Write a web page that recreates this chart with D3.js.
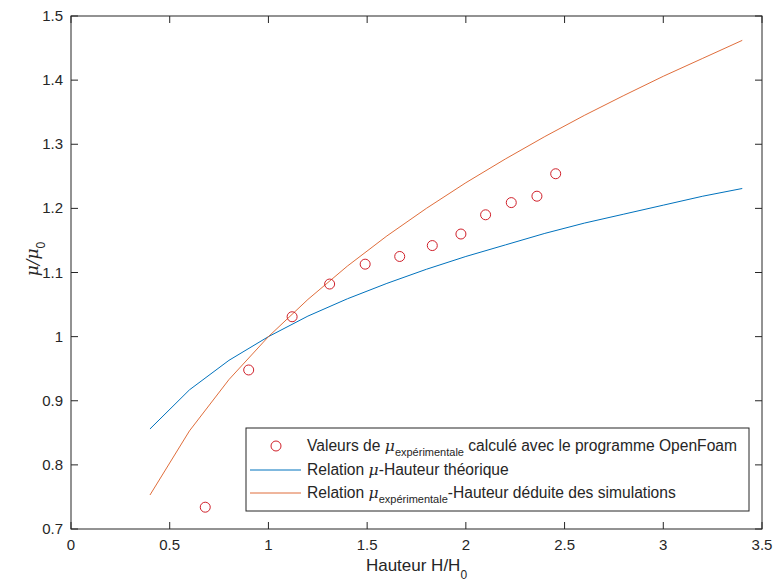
<html>
  <head>
    <meta charset="utf-8">
    <title>mu / mu0</title>
    <style>
      body { margin: 0; background: #fff; }
      text { font-family: "Liberation Sans", Arial, sans-serif; fill: #262626; }
    </style>
  </head>
  <body>
  <script src="https://cdn.jsdelivr.net/npm/d3@7/dist/d3.min.js" charset="utf-8"></script>
  <script type="text/javascript">

// values
var hauteur = [0.4, 0.6, 0.8, 1.0, 1.2, 1.4, 1.6, 1.8, 2.0, 2.2, 2.4, 2.6, 2.8, 3.0, 3.2, 3.4];
var mu_theorique = [0.856, 0.917, 0.963, 1.000, 1.032, 1.059, 1.083, 1.105, 1.125,
                    1.143, 1.161, 1.177, 1.191, 1.205, 1.219, 1.231];
var mu_simulations = [0.753, 0.853, 0.933, 1.000, 1.058, 1.110, 1.157, 1.200, 1.240,
                      1.277, 1.312, 1.345, 1.376, 1.406, 1.434, 1.462];

var h_openfoam = [0.68, 0.90, 1.12, 1.31, 1.49, 1.665, 1.83, 1.975, 2.10, 2.23, 2.36, 2.455];
var mu_openfoam = [0.734, 0.948, 1.031, 1.082, 1.113, 1.125, 1.142, 1.160, 1.190, 1.209, 1.219, 1.254];

var x_ticks = [0, 0.5, 1, 1.5, 2, 2.5, 3, 3.5];
var y_ticks = [0.7, 0.8, 0.9, 1, 1.1, 1.2, 1.3, 1.4, 1.5];

var w = 777, h = 585;
// plot box (note: "top" is reserved by the window object)
var box = {left: 71, right: 762, top: 16, bottom: 529};

var svg = d3.select('body').append('svg')
    .attr('width', w)
    .attr('height', h);

var x = d3.scaleLinear().domain([0, 3.5]).range([box.left, box.right]);
var y = d3.scaleLinear().domain([0.7, 1.5]).range([box.bottom, box.top]);

// ticks inside the box, on all four sides
var tick = 7;
var axes = svg.append('g').attr('stroke', '#262626').attr('stroke-width', 1);
x_ticks.forEach(function(t){
  axes.append('line').attr('x1', x(t)).attr('x2', x(t)).attr('y1', box.bottom).attr('y2', box.bottom - tick);
  axes.append('line').attr('x1', x(t)).attr('x2', x(t)).attr('y1', box.top).attr('y2', box.top + tick);
});
y_ticks.forEach(function(t){
  axes.append('line').attr('x1', box.left).attr('x2', box.left + tick).attr('y1', y(t)).attr('y2', y(t));
  axes.append('line').attr('x1', box.right).attr('x2', box.right - tick).attr('y1', y(t)).attr('y2', y(t));
});
axes.append('rect')
    .attr('x', box.left).attr('y', box.top)
    .attr('width', box.right - box.left).attr('height', box.bottom - box.top)
    .attr('fill', 'none');

svg.selectAll('.xl').data(x_ticks).enter().append('text')
    .attr('x', function(d){ return x(d); })
    .attr('y', box.bottom + 21)
    .attr('text-anchor', 'middle')
    .style('font-size', '15px')
    .text(function(d){ return d; });

svg.selectAll('.yl').data(y_ticks).enter().append('text')
    .attr('x', box.left - 8)
    .attr('y', function(d){ return y(d) + 5; })
    .attr('text-anchor', 'end')
    .style('font-size', '15px')
    .text(function(d){ return d; });

// axis labels
var xlab = svg.append('text')
    .attr('x', (box.left + box.right) / 2)
    .attr('y', 571)
    .attr('text-anchor', 'middle')
    .style('font-size', '17px');
xlab.append('tspan').text('Hauteur H/H');
xlab.append('tspan').attr('dy', 8).style('font-size', '12px').text('0');

var ylab = svg.append('text')
    .attr('transform', 'translate(38,259) rotate(-90)')
    .attr('text-anchor', 'middle')
    .style('font-size', '17px');
ylab.append('tspan').style('font-style', 'italic').style('font-family', '"DejaVu Serif", serif').text('\u03bc/\u03bc');
ylab.append('tspan').attr('dy', 7).style('font-size', '12px').text('0');

// lines
var line = d3.line()
    .x(function(d){ return x(d[0]); })
    .y(function(d){ return y(d[1]); });

svg.append('path')
    .datum(d3.zip(hauteur, mu_theorique))
    .attr('d', line)
    .attr('fill', 'none')
    .attr('stroke', '#0072BD')
    .attr('stroke-width', 1);

svg.append('path')
    .datum(d3.zip(hauteur, mu_simulations))
    .attr('d', line)
    .attr('fill', 'none')
    .attr('stroke', '#D95319')
    .attr('stroke-opacity', 0.85)
    .attr('stroke-width', 1);

svg.selectAll('circle.pt')
    .data(d3.zip(h_openfoam, mu_openfoam))
    .enter()
    .append('circle')
    .attr('class', 'pt')
    .attr('cx', function(d){ return x(d[0]); })
    .attr('cy', function(d){ return y(d[1]); })
    .attr('r', 5)
    .attr('fill', 'none')
    .attr('stroke', '#d0202a')
    .attr('stroke-width', 1);

// legend
var lg = svg.append('g');
lg.append('rect')
    .attr('x', 246).attr('y', 428)
    .attr('width', 503).attr('height', 83)
    .attr('fill', '#fff')
    .attr('stroke', '#262626')
    .attr('stroke-width', 1);

var rows = [446, 470, 493];
lg.append('circle')
    .attr('cx', 276).attr('cy', rows[0]).attr('r', 5)
    .attr('fill', 'none').attr('stroke', '#d0202a');
lg.append('line')
    .attr('x1', 250).attr('x2', 301).attr('y1', rows[1]).attr('y2', rows[1])
    .attr('stroke', '#0072BD');
lg.append('line')
    .attr('x1', 250).attr('x2', 301).attr('y1', rows[2]).attr('y2', rows[2])
    .attr('stroke', '#D95319').attr('stroke-opacity', 0.85);

function mu(t){
  t.append('tspan').style('font-style', 'italic').style('font-family', '"DejaVu Serif", serif').text('\u03bc');
}

var fs = '15.6px', sub = '11px';
var t1 = lg.append('text').attr('x', 307).attr('y', rows[0] + 5).style('font-size', fs);
t1.append('tspan').text('Valeurs de ');
mu(t1);
t1.append('tspan').attr('dy', 5).style('font-size', sub).text('exp\u00e9rimentale');
t1.append('tspan').attr('dy', -5).text(' calcul\u00e9 avec le programme OpenFoam');

var t2 = lg.append('text').attr('x', 307).attr('y', rows[1] + 5).style('font-size', fs);
t2.append('tspan').text('Relation ');
mu(t2);
t2.append('tspan').text('-Hauteur th\u00e9orique');

var t3 = lg.append('text').attr('x', 307).attr('y', rows[2] + 5).style('font-size', fs);
t3.append('tspan').text('Relation ');
mu(t3);
t3.append('tspan').attr('dy', 5).style('font-size', sub).text('exp\u00e9rimentale');
t3.append('tspan').attr('dy', -5).text('-Hauteur d\u00e9duite des simulations');

  </script>
  </body>
</html>
